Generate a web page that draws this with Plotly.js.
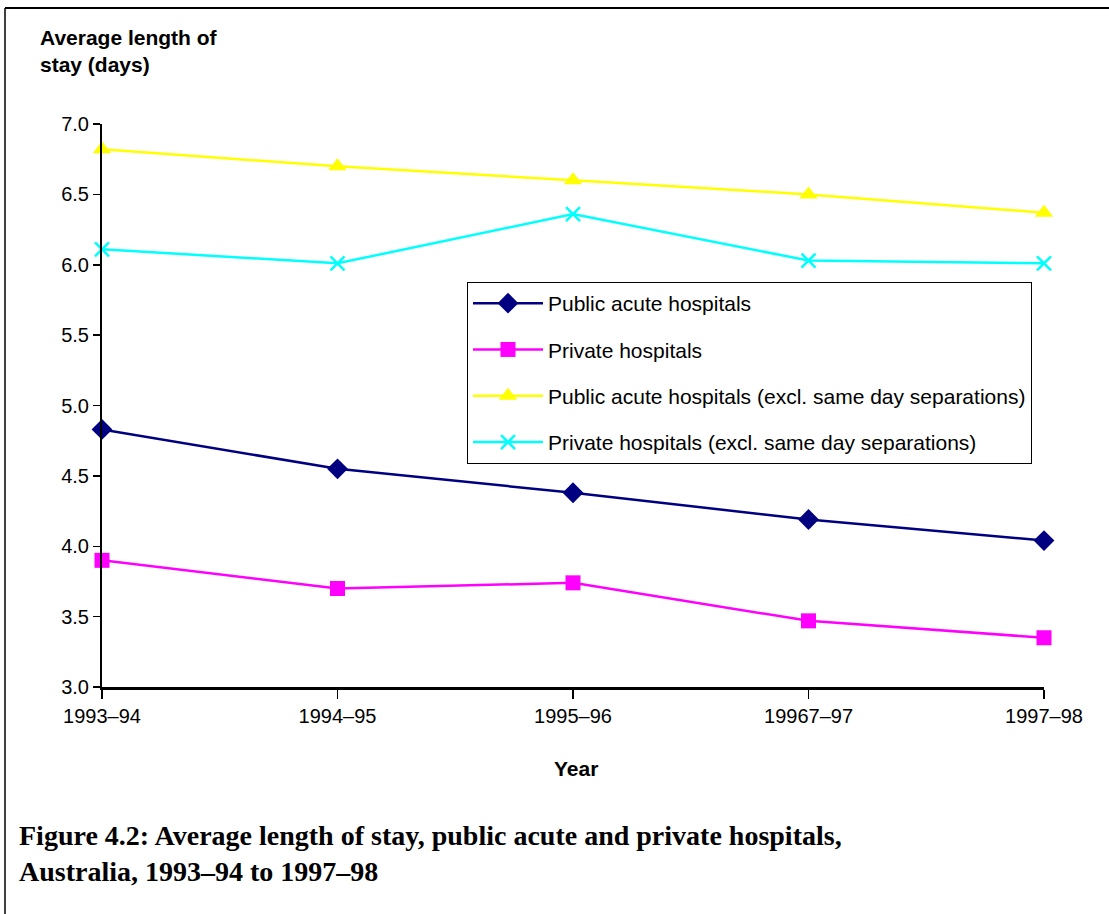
<!DOCTYPE html>
<html>
<head>
<meta charset="utf-8">
<script src="https://cdn.plot.ly/plotly-3.0.1.min.js"></script>
<style>
  html, body { margin: 0; padding: 0; background: #fff; }
  #frame { position: absolute; left: 0; top: 0; width: 1109px; height: 914px; }
  #chart { width: 1109px; height: 914px; }
</style>
</head>
<body>
<div id="frame"><div id="chart"></div></div>
<script>
const years = ["1993\u201394", "1994\u201395", "1995\u201396", "19967\u201397", "1997\u201398"];
const publicAcute = [4.83, 4.55, 4.38, 4.19, 4.04];
const privateHosp = [3.90, 3.70, 3.74, 3.47, 3.35];
const publicAcuteExcl = [6.82, 6.70, 6.60, 6.50, 6.37];
const privateExcl = [6.11, 6.01, 6.36, 6.03, 6.01];
const seriesNames = [
  "Public acute hospitals",
  "Private hospitals",
  "Public acute hospitals (excl. same day separations)",
  "Private hospitals (excl. same day separations)"
];
const yTicks = [3.0, 3.5, 4.0, 4.5, 5.0, 5.5, 6.0, 6.5, 7.0];

const W = 1109, H = 914;
const L = 102, R = 65, T = 124, B = 227;
const pw = W - L - R, ph = H - T - B;
const px = v => (v - L) / pw;
const py = v => (H - B - v) / ph;

const font = "Liberation Sans, Arial, sans-serif";

function tr(y, name, color, symbol, size, group, extra) {
  const m = Object.assign({ symbol: symbol, size: size, color: color, line: { width: 0 } }, extra || {});
  return {
    x: years, y: y, name: name, type: "scatter", mode: "lines+markers",
    line: { color: color, width: 2.5 },
    marker: m, cliponaxis: false, legendgroup: group
  };
}

const data = [
  tr(publicAcute, seriesNames[0], "#000080", "diamond", 16, "a"),
  tr(privateHosp, seriesNames[1], "#FF00FF", "square", 15, "b"),
  tr(publicAcuteExcl, seriesNames[2], "#FFFF00", "triangle-up", 16, "c"),
  tr(privateExcl, seriesNames[3], "#00FFFF", "x-thin", 14, "d", { line: { width: 2.5, color: "#00FFFF" } })
];

const layout = {
  width: W, height: H,
  margin: { l: L, r: R, t: T, b: B },
  paper_bgcolor: "#ffffff", plot_bgcolor: "#ffffff",
  font: { family: font, size: 20, color: "#000" },
  showlegend: true,
  legend: {
    x: px(467), y: py(282), xanchor: "left", yanchor: "top",
    bordercolor: "#000", borderwidth: 1, bgcolor: "#fff",
    font: { family: font, size: 21, color: "#000" },
    tracegroupgap: 16, traceorder: "grouped", itemwidth: 70
  },
  xaxis: {
    type: "category", range: [0, 4],
    showgrid: false, zeroline: false,
    showline: true, linecolor: "#000", linewidth: 3,
    ticks: "outside", ticklen: 9, tickwidth: 1.5, tickcolor: "#000",
    tickfont: { family: font, size: 20, color: "#000" },
    fixedrange: true
  },
  yaxis: {
    range: [3, 7], tickvals: yTicks, tickformat: ".1f",
    showgrid: false, zeroline: false,
    showline: true, linecolor: "#000", linewidth: 2,
    ticks: "outside", ticklen: 7, tickwidth: 1.5, tickcolor: "#000",
    tickfont: { family: font, size: 20, color: "#000" },
    fixedrange: true
  },
  annotations: [
    { xref: "paper", yref: "paper", x: px(38), y: py(24), xanchor: "left", yanchor: "top",
      align: "left", showarrow: false,
      text: "<b>Average length of<br>stay (days)</b>",
      font: { family: font, size: 21, color: "#000" } },
    { xref: "paper", yref: "paper", x: px(576), y: py(768), xanchor: "center", yanchor: "middle",
      showarrow: false, text: "<b>Year</b>",
      font: { family: font, size: 21, color: "#000" } },
    { xref: "paper", yref: "paper", x: px(17), y: py(818), xanchor: "left", yanchor: "top",
      align: "left", showarrow: false,
      text: "<b>Figure 4.2: Average length of stay, public acute and private hospitals,<br>Australia, 1993\u201394 to 1997\u201398</b>",
      font: { family: "Liberation Serif, Times New Roman, serif", size: 28, color: "#000" } }
  ],
  shapes: [
    { type: "line", xref: "paper", yref: "paper", x0: px(5), x1: px(1109), y0: py(8), y1: py(8),
      line: { color: "#000", width: 2 } },
    { type: "line", xref: "paper", yref: "paper", x0: px(5), x1: px(5), y0: py(8), y1: py(914),
      line: { color: "#000", width: 1.5 } }
  ]
};

Plotly.newPlot("chart", data, layout, { displayModeBar: false, staticPlot: true });
</script>
</body>
</html>
